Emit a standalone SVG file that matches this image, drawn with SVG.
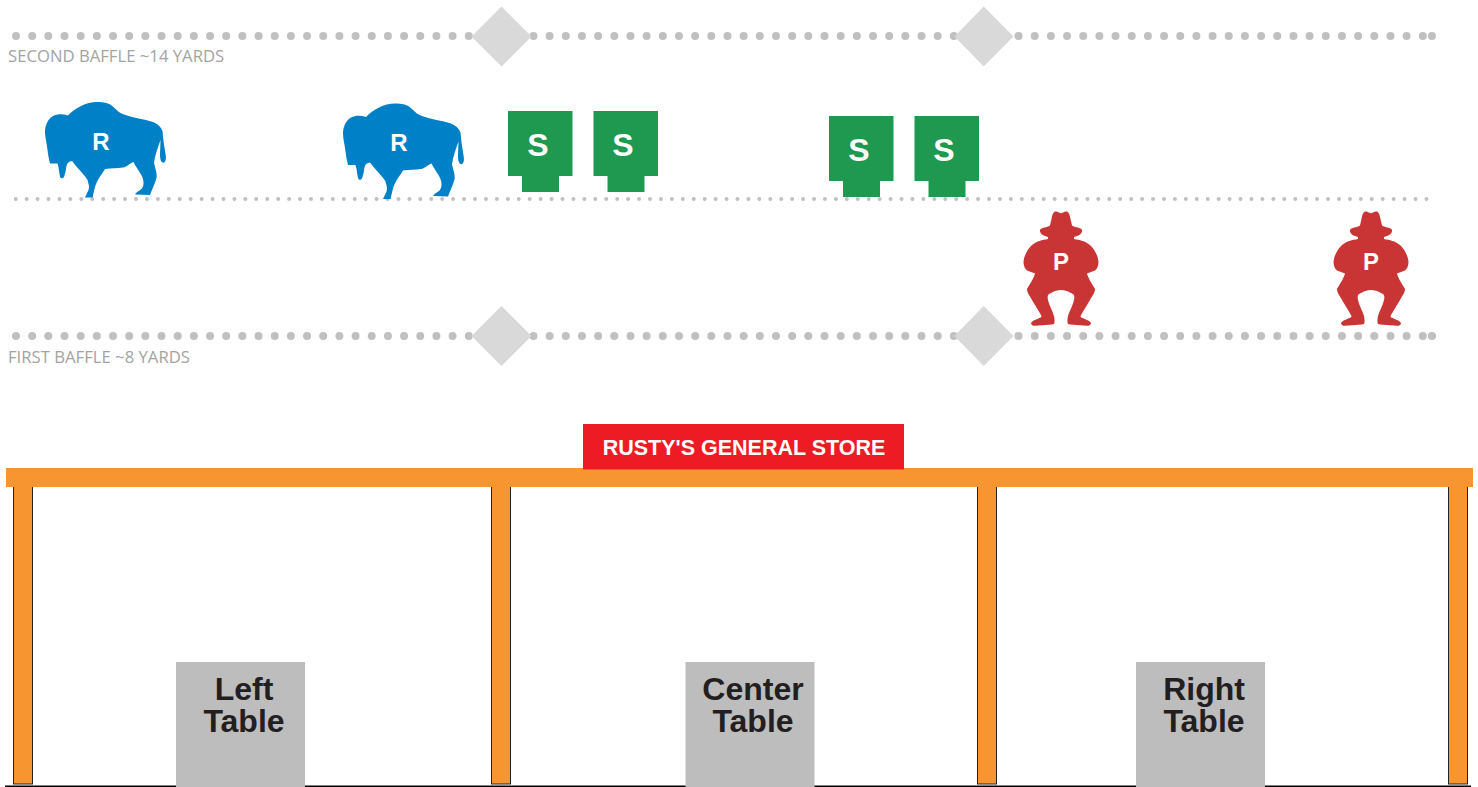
<svg xmlns="http://www.w3.org/2000/svg" width="1478" height="787" viewBox="0 0 1478 787">
<style>
.big{stroke:#c0c0c0;stroke-width:8;stroke-linecap:round;stroke-dasharray:0 16.17;fill:none}
.end{fill:#c0c0c0}
.small{stroke:#c0c0c0;stroke-width:4;stroke-linecap:round;stroke-dasharray:0 10.936;fill:none}
.dia{fill:#d9d9d9}
.cap{font:16.7px "Open Sans",sans-serif;fill:#a3a3a3}
.bison{fill:#0080c6}
.cow{fill:#c93535}
.tgt{fill:#1f9850}
.mk{font:bold 24px "Liberation Sans",Arial,sans-serif;fill:#fff;text-anchor:middle}
.s{font-size:32px}
.post{fill:#f79530;stroke:#222;stroke-width:1}
.tbl{fill:#bdbdbd}
.tt{font:bold 32px "Liberation Sans",Arial,sans-serif;fill:#231f20;text-anchor:middle}
</style>
<defs>
<path id="b" d="M68 115.500C75 108 86 102 97 102C104 102 108 103 111 105C116 109 119 113 124 114.500C133 118 144 119 153 122C158 124 161 127 162.500 131L163.500 141L165.700 155C166.500 160 165 163 163 162.700C160.500 162 160 158 160 154L160.500 140C158 147 155 155 154 163C155 168 157 172 156.700 177C155 184 152 189 150 195L135 194.500L137 192C141 190 143.500 188 143.500 183C144 176 136 168 133.500 162C130 163 127 167 123 167.500C117 168.500 111 168 105 169C102 174 97 180 95 187C94 191 93 195 92.700 197.500L85 197.500L88.500 190C89.500 186 89 186 87.500 180C85 175 77 168 72 161C69 161.500 67 163 66.500 166C66 170 65 174 64 177C62.500 179 60.500 178.500 60 176.500C59 172 59 168 57.500 163.500L50 163.500C49 159 48 155 47.500 150C47 144 45 138 45 132C45 125 48 119 53 116C58 113.500 63 114 68 115.500Z"/>
<path id="c" d="M1061 213.300C1064 212.500 1064 211 1066.700 211.500C1069 212 1070 216 1070.500 219L1072 225.500C1075 228 1081 227 1082 230C1082.500 233 1080 235 1077 236L1074 237L1074 239C1080 240 1085 241 1090 245C1095 250 1098 256 1098.500 261.500C1098.500 266 1097 269 1095 270.500L1087 273.500C1088 278 1092 284 1095 289C1095 293 1092 296 1090 300C1087 305 1084 310 1081 315L1080.500 317C1084 319 1089 320 1091 323C1091 325 1089 326 1087 325.800L1070 324.500L1068 324C1067 322 1067.500 319 1068 316C1069.500 311 1073 305 1074 300C1075 296 1074 294 1071 293C1068 291 1064 290 1061 290C1058 290 1054 291 1051 293C1048 294 1047 296 1048 300C1049 305 1052.500 311 1054 316C1054.500 319 1055 322 1054 324L1052 324.500L1035 325.800C1033 326 1031 325 1031 323C1033 320 1038 319 1041.500 317L1041 315C1038 310 1035 305 1032 300C1030 296 1027 293 1027 289C1030 284 1034 278 1035 273.500L1027 270.500C1025 269 1023.500 266 1023.500 261.500C1024 256 1027 250 1032 245C1037 241 1042 240 1048 239L1048 237L1045 236C1042 235 1039.500 233 1040 230C1041 227 1047 228 1050 225.500L1051.500 219C1052 216 1053 212 1055.300 211.500C1058 211 1058 212.500 1061 213.300Z"/>
<path id="t" d="M0 0H64.500V65H51V81H14V65H0Z"/>
</defs>
<g id="connectors">
<path class="big" d="M16 36H1426"/>
<circle class="end" cx="1432" cy="36" r="4"/>
<path class="small" d="M15.700 199H1428"/>
<path class="big" d="M16 336H1426"/>
<circle class="end" cx="1432" cy="336" r="4"/>
</g>
<g id="baffle-second">
<path class="dia" d="M501.500 6.500L531.500 36.500L501.500 66.500L471.500 36.500Z"/>
<path class="dia" d="M983.700 6.500L1013.500 36.500L983.700 66.500L954.500 36.500Z"/>
<text class="cap" x="8" y="62">SECOND BAFFLE ~14 YARDS</text>
</g>
<g id="baffle-first">
<path class="dia" d="M501.500 306L531.500 336L501.500 366L471.500 336Z"/>
<path class="dia" d="M983.700 306L1013.500 336L983.700 366L954.500 336Z"/>
<text class="cap" x="8" y="363">FIRST BAFFLE ~8 YARDS</text>
</g>
<g id="rifle-1"><use href="#b" class="bison"/><text class="mk" x="101" y="150">R</text></g>
<g id="rifle-2"><use href="#b" class="bison" x="298" y="1.500"/><text class="mk" x="399" y="151">R</text></g>
<g id="shotgun-1"><use href="#t" class="tgt" x="508" y="111"/><text class="mk s" x="538" y="156">S</text></g>
<g id="shotgun-2"><use href="#t" class="tgt" x="593.500" y="111"/><text class="mk s" x="623" y="156">S</text></g>
<g id="shotgun-3"><use href="#t" class="tgt" x="829" y="116"/><text class="mk s" x="859" y="161">S</text></g>
<g id="shotgun-4"><use href="#t" class="tgt" x="914.500" y="116"/><text class="mk s" x="944" y="161">S</text></g>
<g id="pistol-1"><use href="#c" class="cow"/><text class="mk" x="1061" y="270">P</text></g>
<g id="pistol-2"><use href="#c" class="cow" x="310"/><text class="mk" x="1371" y="270">P</text></g>
<g id="store">
<path d="M5 786.300H1471" stroke="#000" stroke-width="1.400"/>
<rect class="post" x="13.500" y="485" width="19" height="299"/>
<rect class="post" x="491.500" y="485" width="19" height="299"/>
<rect class="post" x="977.500" y="485" width="19" height="299"/>
<rect class="post" x="1448.500" y="485" width="19" height="299"/>
<rect x="6" y="468" width="1467" height="19" fill="#f79530"/>
<rect x="583" y="424" width="321" height="45.500" fill="#ed1c24"/>
<text x="744" y="454.500" font-family="Liberation Sans, Arial, sans-serif" font-weight="bold" font-size="21.500" fill="#fff" text-anchor="middle">RUSTY'S GENERAL STORE</text>
</g>
<g id="table-left"><rect class="tbl" x="176" y="662" width="129" height="125"/><text class="tt" x="244" y="700">Left</text><text class="tt" x="244" y="732">Table</text></g>
<g id="table-center"><rect class="tbl" x="685.500" y="662" width="129" height="125"/><text class="tt" x="753" y="700">Center</text><text class="tt" x="753" y="732">Table</text></g>
<g id="table-right"><rect class="tbl" x="1136" y="662" width="129" height="125"/><text class="tt" x="1204" y="700">Right</text><text class="tt" x="1204" y="732">Table</text></g>
</svg>
